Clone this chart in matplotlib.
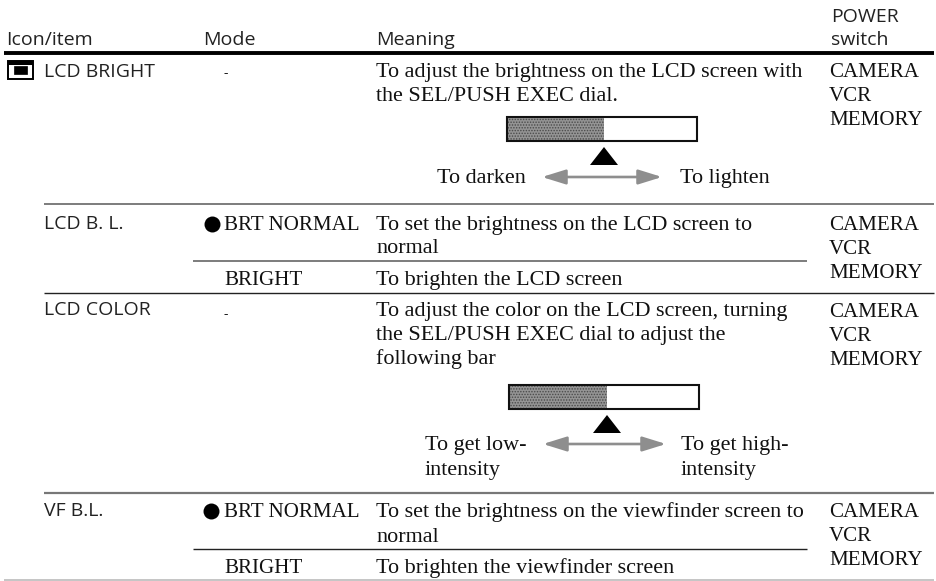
import matplotlib
matplotlib.use("Agg")
import matplotlib.pyplot as plt
from matplotlib.patches import Rectangle, Polygon, FancyArrowPatch

cabecalho = ["Icon/item", "Mode", "Meaning"]
itens = ["LCD BRIGHT", "LCD B. L.", "LCD COLOR", "VF B.L."]
modos = ["BRT NORMAL", "BRIGHT"]
sentidos = [
    "To adjust the brightness on the LCD screen with\nthe SEL/PUSH EXEC dial.",
    "To set the brightness on the LCD screen to\nnormal",
    "To brighten the LCD screen",
    "To adjust the color on the LCD screen, turning\nthe SEL/PUSH EXEC dial to adjust the\nfollowing bar",
    "To set the brightness on the viewfinder screen to\nnormal",
    "To brighten the viewfinder screen",
]
chave = "CAMERA\nVCR\nMEMORY"

SANS = "Open Sans"
SERIF = "Liberation Serif"

fig = plt.figure(figsize=(9.36, 5.81), dpi=100)
ax = fig.add_axes([0, 0, 1, 1])
ax.set_xlim(0, 936)
ax.set_ylim(581, 0)
ax.axis("off")


def sans(x, y, s, size=14):
    ax.text(x, y, s, family=SANS, fontsize=size, color="#222222", va="baseline")


def serif(x, y, s, size=15.9, passo=24):
    # uma linha de cada vez, para controlar a distancia entre as linhas
    for i, parte in enumerate(s.split("\n")):
        ax.text(x, y + i * passo, parte, family=SERIF, fontsize=size, color="#111111", va="baseline")


def linha(x0, x1, y, lw=1.0, cor="#444444"):
    ax.plot([x0, x1], [y, y], color=cor, lw=lw, solid_capstyle="butt")


def barra(x0, x1, y0, y1, meio):
    plt.rcParams["hatch.linewidth"] = 0.7
    ax.add_patch(Rectangle((x0, y0), meio - x0, y1 - y0, fc="#949494", ec="#4a4a4a", hatch="......", lw=0))
    ax.add_patch(Rectangle((x0, y0), x1 - x0, y1 - y0, fc="none", ec="#111111", lw=1.5))


def triangulo(cx, topo, base):
    ax.add_patch(Polygon([(cx - 14, base), (cx + 14, base), (cx, topo)], fc="black", ec="none"))


def seta(x0, x1, y):
    ax.add_patch(FancyArrowPatch((x0, y), (x1, y), arrowstyle="<|-|>,head_length=0.9,head_width=0.28",
                                 mutation_scale=16, color="#8e8e8e", lw=1.9, shrinkA=0, shrinkB=0))


# cabecalho
sans(6, 45, cabecalho[0])
sans(203, 45, cabecalho[1])
sans(376, 45, cabecalho[2])
sans(831, 22, "POWER")
sans(831, 45, "switch")
linha(4, 934, 53, lw=2.8, cor="black")

# icone
ax.add_patch(Rectangle((7.5, 61), 25, 17.5, fc="white", ec="black", lw=1.4))
ax.add_patch(Rectangle((7.5, 61), 25, 4, fc="black", ec="none"))
ax.add_patch(Rectangle((14, 66), 13, 8, fc="black", ec="black", lw=0.5))

# coluna dos itens
sans(44, 77, itens[0])
sans(44, 229, itens[1])
sans(44, 315, itens[2])
sans(44, 516, itens[3])

# coluna mode
sans(224, 77, "-", size=10)
sans(224, 318, "-", size=10)
ax.plot([212], [224], "o", color="black", ms=11.5, mew=0)
ax.plot([211], [510.5], "o", color="black", ms=11.5, mew=0)
serif(224, 230, modos[0], size=15.1)
serif(224, 285, modos[1], size=15.1)
serif(224, 517, modos[0], size=15.1)
serif(224, 573, modos[1], size=15.1)

# coluna meaning
serif(376, 77, sentidos[0])
serif(376, 230, sentidos[1], passo=23)
serif(376, 285, sentidos[2])
serif(376, 316, sentidos[3])
serif(376, 517, sentidos[4], passo=25)
serif(376, 573, sentidos[5])

# coluna power
for y in (77, 230, 317, 517):
    serif(829, y, chave, size=15.1)

# barras e setas
barra(507, 697, 117, 141, 604)
triangulo(604, 147, 165)
serif(437, 183, "To darken")
seta(542, 662, 177)
serif(680, 183, "To lighten")

barra(509, 699, 385, 409, 607)
triangulo(607, 415, 433)
serif(425, 450, "To get low-\nintensity", passo=25.5)
seta(543, 666, 444)
serif(681, 450, "To get high-\nintensity", passo=25.5)

# separadores
linha(44, 934, 204, lw=1.2, cor="#666666")
linha(193, 807, 261, lw=1.2, cor="#666666")
linha(44, 934, 293, lw=1.0, cor="#222222")
linha(44, 934, 493, lw=1.6, cor="#777777")
linha(193, 807, 549, lw=1.0, cor="#222222")
linha(4, 934, 580, lw=1.2, cor="#bbbbbb")

fig.savefig("out.png", dpi=100)
